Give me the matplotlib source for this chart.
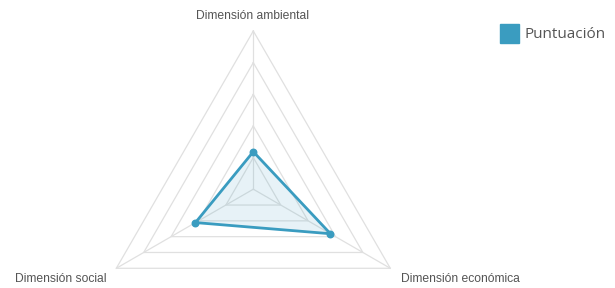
import numpy as np
import matplotlib.pyplot as plt
from matplotlib.patches import Rectangle

# data
dimensions = ["Dimensión ambiental", "Dimensión económica", "Dimensión social"]
scores = [23.7, 56.3, 42.2]
grid_levels = [20, 40, 60, 80, 100]
series_name = "Puntuación"

line_color = "#3a9cc0"
grid_color = "#e0e0e0"

angles = np.deg2rad([90, -30, 210])


def to_xy(r):
    r = np.asarray(r, dtype=float)
    return r * np.cos(angles), r * np.sin(angles)


fig = plt.figure(figsize=(6.15, 2.88), dpi=100)
ax = fig.add_axes([0, 0, 1, 1])
scale = 1.582  # px per unit
ax.set_xlim(-253.3 / scale, (615 - 253.3) / scale)
ax.set_ylim(-(288 - 189.2) / scale, 189.2 / scale)
ax.axis("off")

# grid triangles and spokes
for lvl in grid_levels:
    gx, gy = to_xy([lvl] * 3)
    ax.plot(np.append(gx, gx[0]), np.append(gy, gy[0]), color=grid_color, lw=0.9, zorder=1)
for a in angles:
    ax.plot([0, 100 * np.cos(a)], [0, 100 * np.sin(a)], color=grid_color, lw=0.9, zorder=1)

# series
sx, sy = to_xy(scores)
ax.fill(sx, sy, color=line_color, alpha=0.12, lw=0, zorder=2)
ax.plot(np.append(sx, sx[0]), np.append(sy, sy[0]), color=line_color, lw=2, zorder=3)
ax.scatter(sx, sy, s=22, color=line_color, zorder=4)

# axis labels
lab_font = dict(family="Liberation Sans", fontsize=8.7, color="#555555")
fig.text(253 / 615, 1 - 16 / 288, dimensions[0], ha="center", va="center", **lab_font)
fig.text(460 / 615, 1 - 279 / 288, dimensions[1], ha="center", va="center", **lab_font)
fig.text(61 / 615, 1 - 279 / 288, dimensions[2], ha="center", va="center", **lab_font)

# legend
fig.patches.append(Rectangle((500 / 615, 1 - 43 / 288), 19 / 615, 19 / 288,
                             transform=fig.transFigure, color=line_color))
fig.text(525 / 615, 1 - 35 / 288, series_name, ha="left", va="center",
         family="Open Sans", fontsize=11, color="#555555")

fig.savefig("out.png", dpi=100)
